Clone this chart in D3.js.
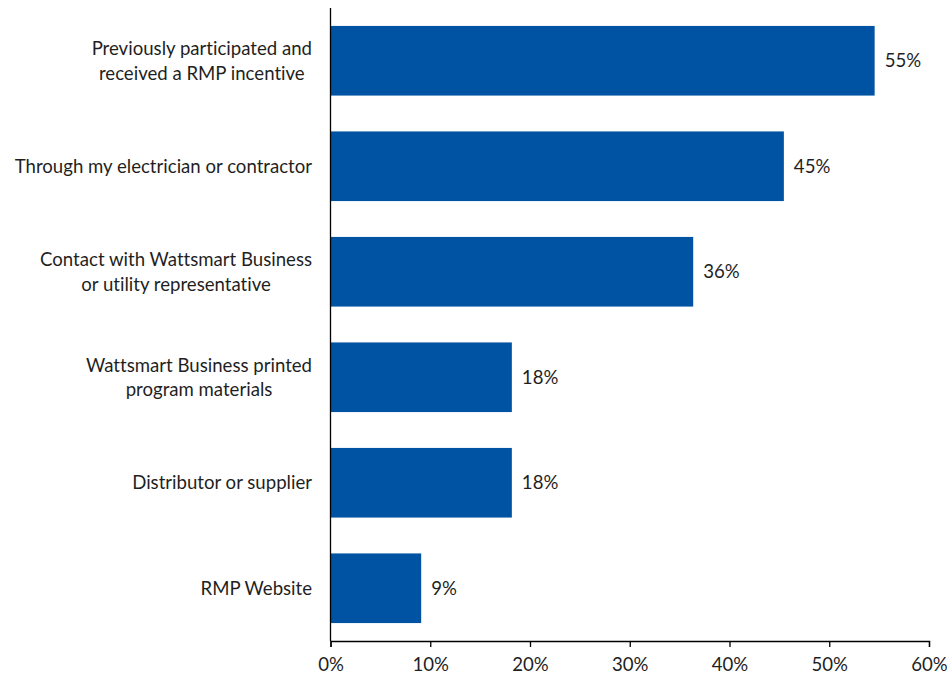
<!DOCTYPE html>
<html>
<head>
<meta charset="utf-8">
<script src="https://cdn.jsdelivr.net/npm/d3@7"></script>
<style>
  html, body { margin: 0; padding: 0; background: #ffffff; }
  svg text { font-family: Lato, "Liberation Sans", sans-serif; fill: #1f1f1f; font-variant-ligatures: none; font-feature-settings: "liga" 0, "clig" 0; }
</style>
</head>
<body>
<svg id="chart" width="947" height="677"></svg>
<script>
// Source channels and share of respondents (percent)
const categories = [
  ["Previously participated and", "received a RMP incentive"],
  ["Through my electrician or contractor"],
  ["Contact with Wattsmart Business", "or utility representative"],
  ["Wattsmart Business printed", "program materials"],
  ["Distributor or supplier"],
  ["RMP Website"]
];
const values = [54.55, 45.45, 36.36, 18.18, 18.18, 9.09];
const xTicks = [0, 10, 20, 30, 40, 50, 60];

const fontSize = 18.6;
const margin = { top: 8, right: 18, bottom: 36, left: 330.5 };
const width = 947, height = 677;

const svg = d3.select("#chart");

const x = d3.scaleLinear()
  .domain([0, 60])
  .range([margin.left, width - margin.right]);

const y = d3.scaleBand()
  .domain(d3.range(categories.length))
  .range([margin.top, height - margin.bottom])
  .paddingInner(0.34)
  .paddingOuter(0.17);

// Bars
svg.append("g")
  .selectAll("rect")
  .data(values)
  .join("rect")
  .attr("x", x(0))
  .attr("y", (d, i) => y(i))
  .attr("width", d => x(d) - x(0))
  .attr("height", y.bandwidth())
  .attr("fill", "#0052A3");

// Value labels
svg.append("g")
  .selectAll("text")
  .data(values)
  .join("text")
  .attr("x", d => x(d) + 10)
  .attr("y", (d, i) => y(i) + y.bandwidth() / 2)
  .attr("dy", "0.35em")
  .style("font-size", fontSize + "px")
  .text(d => Math.round(d) + "%");

// X axis
const xAxis = svg.append("g")
  .attr("transform", `translate(0,${height - margin.bottom})`)
  .call(d3.axisBottom(x).tickValues(xTicks).tickFormat(d => d + "%").tickSize(6).tickPadding(11));
xAxis.select(".domain").attr("stroke", "#000").attr("stroke-width", 1.3);
xAxis.selectAll(".tick line").attr("stroke", "#000").attr("stroke-width", 1.3);
xAxis.selectAll(".tick text")
  .attr("fill", "#1f1f1f")
  .style("font-size", fontSize + "px")
  .style("font-family", "Lato, 'Liberation Sans', sans-serif");

// Y axis line (no ticks)
svg.append("line")
  .attr("x1", x(0)).attr("x2", x(0))
  .attr("y1", margin.top).attr("y2", height - margin.bottom)
  .attr("stroke", "#000").attr("stroke-width", 1.3);

// Category labels: block right-aligned to the axis, lines centered within the block
const labelRight = x(0) - 18.5;
const lineGap = 24.5;
categories.forEach((lines, i) => {
  const g = svg.append("g");
  const cy = y(i) + y.bandwidth() / 2;
  const texts = lines.map((ln, j) => g.append("text")
    .attr("y", cy + (j - (lines.length - 1) / 2) * lineGap)
    .attr("dy", "0.35em")
    .style("font-size", fontSize + "px")
    .text(ln));
  const maxW = d3.max(texts, t => t.node().getComputedTextLength());
  texts.forEach(t => t.attr("x", labelRight - maxW / 2).attr("text-anchor", "middle"));
});
</script>
</body>
</html>
